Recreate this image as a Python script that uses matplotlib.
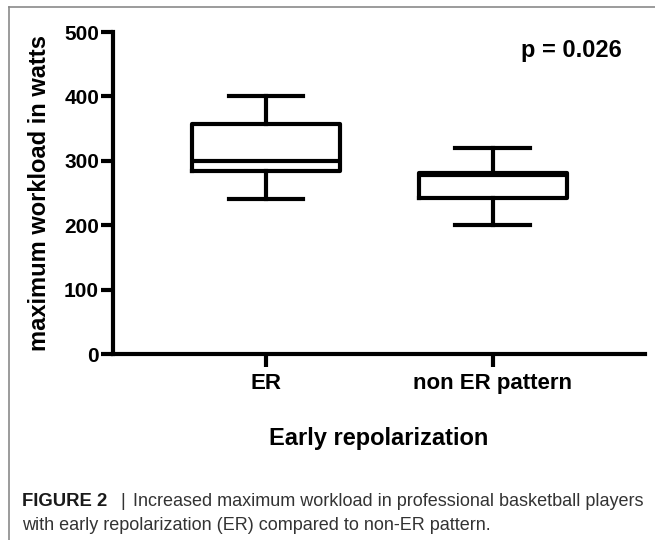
import matplotlib
matplotlib.use("Agg")
import matplotlib.pyplot as plt
from matplotlib.lines import Line2D

categories = ["ER", "non ER pattern"]
whislo = [240, 200]
q1 = [284, 243]
med = [300, 278]
q3 = [357, 281]
whishi = [400, 320]
yticks = [0, 100, 200, 300, 400, 500]

W, H = 655, 540
fig = plt.figure(figsize=(W / 100, H / 100), dpi=100)
fig.patch.set_facecolor("white")

ax = fig.add_axes([113 / W, 1 - 354 / H, (645 - 113) / W, (354 - 32) / H])

stats = []
for i, c in enumerate(categories):
    stats.append(dict(label=c, whislo=whislo[i], q1=q1[i], med=med[i],
                      q3=q3[i], whishi=whishi[i], fliers=[]))
lw = 3.0
ax.bxp(stats, positions=[1, 2], widths=0.65, showfliers=False,
       boxprops=dict(color="black", linewidth=lw),
       medianprops=dict(color="black", linewidth=lw),
       whiskerprops=dict(color="black", linewidth=lw),
       capprops=dict(color="black", linewidth=lw),
       capwidths=0.33)

ax.set_xlim(0.326, 2.67)
ax.set_ylim(0, 500)
ax.set_yticks(yticks)
ax.set_yticklabels([str(v) for v in yticks])
for s in ["top", "right"]:
    ax.spines[s].set_visible(False)
for s in ["left", "bottom"]:
    ax.spines[s].set_linewidth(lw)
    ax.spines[s].set_capstyle("projecting")
ax.tick_params(axis="both", direction="out", length=9, width=lw, pad=1)

fam = ["Liberation Sans", "DejaVu Sans"]
for lab in ax.get_yticklabels():
    lab.set_fontfamily(fam)
    lab.set_fontweight("bold")
    lab.set_fontsize(15)
for lab in ax.get_xticklabels():
    lab.set_fontfamily(fam)
    lab.set_fontweight("bold")
    lab.set_fontsize(16)
ax.tick_params(axis="x", pad=5)

ax.set_ylabel("maximum workload in watts", fontfamily=fam, fontweight="bold",
              fontsize=17)
ax.yaxis.set_label_coords(-0.117, 0.5)
ax.set_xlabel("Early repolarization", fontfamily=fam, fontweight="bold",
              fontsize=17)
ax.xaxis.set_label_coords(0.5, -0.227)

ax.text(0.957, 0.941, "p = 0.026", transform=ax.transAxes, ha="right", va="center",
        fontfamily=fam, fontweight="bold", fontsize=17)

# frame lines (top and left)
fig.add_artist(Line2D([9 / W, 1], [1 - 7 / H, 1 - 7 / H], color="#8a8a8a", lw=1.2,
                      transform=fig.transFigure))
fig.add_artist(Line2D([9 / W, 9 / W], [0, 1 - 7 / H], color="#8a8a8a", lw=1.2,
                      transform=fig.transFigure))

# caption
capfam = ["Liberation Sans", "DejaVu Sans"]
cfs = 12.95
fig.text(22 / W, 1 - 501 / H, "FIGURE 2", fontfamily=capfam, fontweight="bold",
         fontsize=13.3, color="#1a1a1a", va="center", ha="left")
fig.text(123 / W, 1 - 501 / H, "|", fontfamily=capfam,
         fontsize=cfs, color="#333333", va="center", ha="center")
fig.text(133 / W, 1 - 501 / H, "Increased maximum workload in professional basketball players",
         fontfamily=capfam, fontsize=cfs, color="#333333", va="center", ha="left")
fig.text(22 / W, 1 - 525 / H, "with early repolarization (ER) compared to non-ER pattern.",
         fontfamily=capfam, fontsize=cfs, color="#333333", va="center", ha="left")

fig.savefig("out.png", dpi=100, facecolor="white")
